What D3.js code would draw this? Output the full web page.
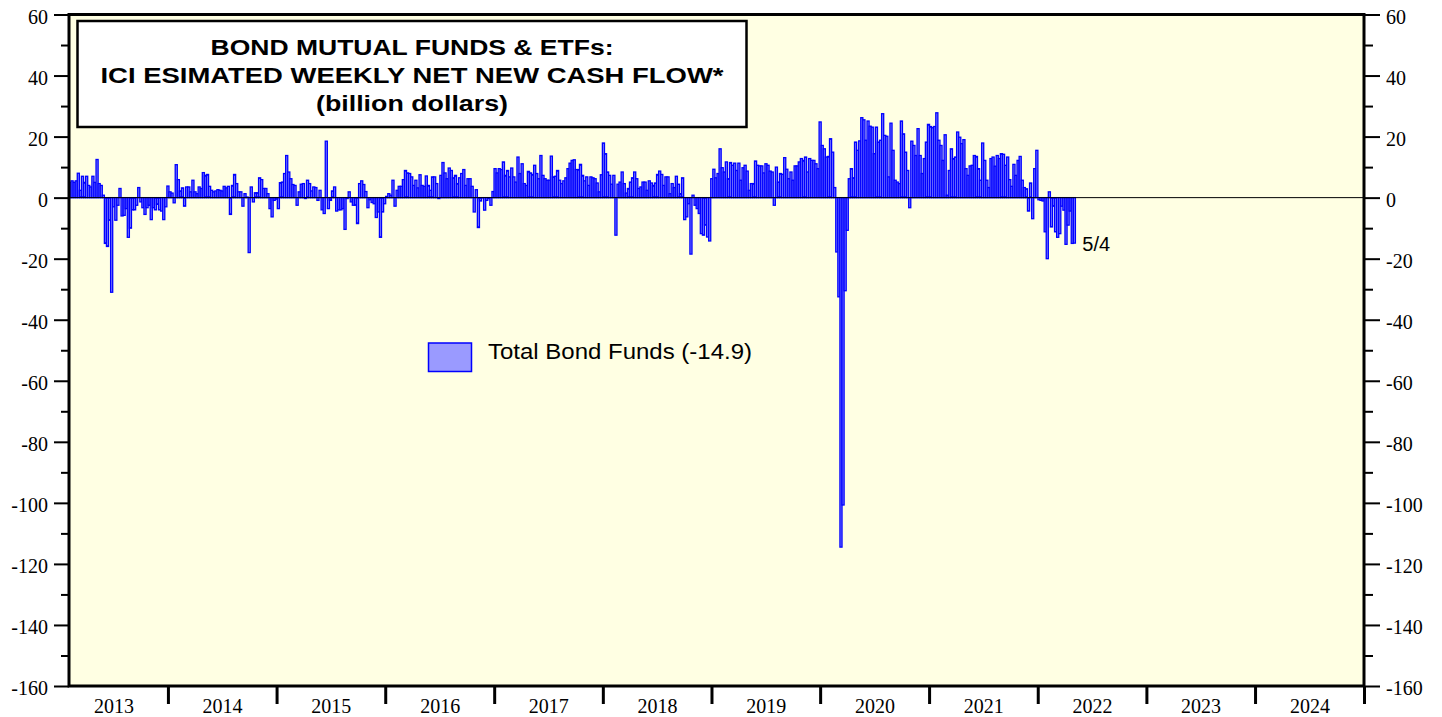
<!DOCTYPE html>
<html><head><meta charset="utf-8">
<script src="https://cdn.jsdelivr.net/npm/d3@7"></script>
<style>body{margin:0;background:#fff}svg{display:block}</style>
</head><body>
<svg id="c" width="1442" height="717"></svg>
<script>
// ---- data (billion dollars, weekly, first week 2013-02-06, last 2022-05-04) ----
const years = [2013,2014,2015,2016,2017,2018,2019,2020,2021,2022,2023,2024];
const yMajor = [-160,-140,-120,-100,-80,-60,-40,-20,0,20,40,60];
const yMinor = [-150,-130,-110,-90,-70,-50,-30,-10,10,30,50];
const firstWeek = "2013-02-06";
const lastLabel = "5/4";
const legendLabel = "Total Bond Funds (-14.9)";
const titleLines = ["BOND MUTUAL FUNDS & ETFs:", "ICI ESIMATED WEEKLY NET NEW CASH FLOW*", "(billion dollars)"];

const flows2013 = [5,5.5,5,5.5,8,2.4,7,5,7,4,3.5,7,5,12.5,4.6,4,0.8,-15,-16,-7.4,-31,-3,-7.4,-2.5,3,-6,-5.8,-3.6,-13,-10,-4,-4,-2.5,3.3,-1.4,-3.3,-5.5,-3.3,-2.5,-7.2,-3.3,-4,-2.2,-4,-4.4,-7.2,-3];
const flows2014 = [3.8,1.9,1.5,-1.7,10.8,5.9,2.2,3.2,-2.8,3.5,3.5,1.9,5.7,1.9,1.3,3.5,3,8.2,7.3,7.6,3.7,2.4,1.9,2.2,2.6,2.4,2.2,3.7,3.2,3.7,-5.5,4,7.6,4.6,1.9,1.9,-2.8,1.3,0.2,-18,3.5,-1.4,1.6,1.6,6.5,5.9,3,3,1.3,-3.6,-6.3,-0.9,-0.5];
const flows2015 = [-3.6,4.9,5.1,7.9,13.8,8.4,6.2,4.3,4,-2.5,1.9,4.4,4.6,-0.3,5.7,4.6,2.2,3.5,3.3,-0.9,2.4,-4,-5.2,18.5,-3.6,-0.9,2.2,3.5,-4.4,-4,-4,-3.6,-10.4,-0.3,1.9,-1.4,-2.5,-2.5,-8.5,4.6,5.5,4.3,2,-3.3,-0.7,-1.6,-2,-6.5,-4.7,-13,-4.7,-2];
const flows2016 = [0.4,1.3,0.8,5.7,-2.8,2.4,3.7,3.7,5.9,8.9,8.1,7.9,6.8,4,5.7,3.2,7.5,4,3.7,7.1,4,2.4,6.8,6.8,4.6,-0.3,7.3,11.5,8.1,6.2,9.7,8.9,6.5,7.3,4.6,6.5,7.9,9.2,4,6.2,6.2,3.7,-4.7,2.6,-9.8,-1.1,-0.1,-4.1,-0.9,-0.3,-2.5,2];
const flows2017 = [9.5,8.1,9.5,9.2,11.7,7.3,8.9,6.8,9.7,6.8,5.1,13.3,7.9,11.1,4.6,4,8.6,8.1,7.6,10.6,7.9,6.2,13.8,7.3,6.2,5.7,5.7,13.6,6.8,7,8.9,5.7,4.6,5.5,6.5,9.5,11.3,12.2,12.4,9.2,9.2,10.9,7.3,5.5,6.8,4,6.8,6.5,6.2,4.8,1.9,7.5];
const flows2018 = [17.9,14.4,8.4,7.3,4.4,7.3,-12.3,4.4,5.1,8.4,4.6,1.5,3,5.1,6.5,8.4,6.2,3,3.5,5.1,5.1,2.4,5.5,4.8,4,4.8,7.6,8.7,7.6,4,6.8,6.8,1.3,4.6,3.3,7,4.4,1.3,6.5,-7.2,-6.3,-2,-18.5,0.8,-2.5,-3.6,-5.2,-11.8,-12.3,-9,-12.9,-14.2];
const flows2019 = [6.2,9.3,6.5,7.9,16,9.8,8.4,11.7,6.2,11.5,10.6,11.3,8.9,11.3,5.7,9.8,10.6,8.7,2.4,4.6,4.6,12,10.6,10.4,10.4,8.1,11.1,10.6,8.7,8.4,-2.5,10,5.1,7.9,7.6,13.1,9.3,6.2,8.4,5.7,10.4,10.4,11.7,12.8,12.2,13.3,8.4,12.8,12.2,12.2,11.1,9.5];
const flows2020 = [24.8,17.1,16,13.3,13.5,19.3,14.9,3.3,-17.8,-32.5,-114.5,-100.7,-30.5,-10.7,6.2,9.5,6.5,18.2,15.5,18.6,26.2,25.5,18.8,25.1,23.4,23.1,14.4,23.1,18.2,18.8,27.5,20.4,20.1,6.8,24.4,15.5,5.7,5.1,4.6,25.1,20.9,14.9,8.9,-3.3,18.5,17.1,13.8,22.6,13.8,7.9,12.8,18.2,24];
const flows2021 = [23.3,22.9,23.3,27.8,18.8,17.1,12.2,20.6,0.8,8.9,16,12.8,13.3,21.5,19.8,17.7,19,9.5,7.3,10.4,10.6,13.8,13.5,9.5,5.7,17.9,12.2,5.7,3.3,12.8,13.3,10.3,13.8,12.8,14.4,14.2,10.6,13.3,5.9,3.7,10.9,7.3,12.2,13.5,5.7,3.3,2.9,-4.4,4.8,-6.9,9.5,15.5];
const flows2022 = [-0.7,-0.9,-1.1,-11.2,-20,1.9,-9.6,-2.8,-11.2,-13,-11.8,-2.8,-4.1,-15.3,-9,-4.4,-15,-14.9];

const allFlows = [].concat(flows2013,flows2014,flows2015,flows2016,flows2017,flows2018,flows2019,flows2020,flows2021,flows2022);
const start = new Date(firstWeek + "T00:00:00");
const data = allFlows.map((v,i) => ({date: d3.timeDay.offset(start, 7*i), value: v}));

// ---- layout ----
const svg = d3.select("#c");
const L = 69, R = 1364, T = 14.5, B = 686;
const x = d3.scaleTime()
  .domain([new Date(2013,0,1), new Date(2025,0,1)])
  .range([59.27, 1364]);
const y = d3.scaleLinear().domain([-160, 60]).range([B, T]);

svg.append("rect").attr("width",1442).attr("height",717).attr("fill","#fff");
svg.append("rect").attr("x",L).attr("y",T).attr("width",R-L).attr("height",B-T).attr("fill","#ffffe3");

svg.append("defs").append("clipPath").attr("id","plotclip")
  .append("rect").attr("x",L).attr("y",T).attr("width",R-L).attr("height",B-T);

// bars
const bw = x(d3.timeDay.offset(start,7)) - x(start);
svg.append("g").attr("clip-path","url(#plotclip)")
  .selectAll("rect").data(data).join("rect")
  .attr("x", d => x(d.date) - bw/2)
  .attr("width", bw)
  .attr("y", d => y(Math.max(0, d.value)))
  .attr("height", d => Math.abs(y(d.value) - y(0)))
  .attr("fill", "#8484ff")
  .attr("stroke", "#0000ff")
  .attr("stroke-width", 1.3);

// zero line
svg.append("line").attr("x1",L).attr("x2",R).attr("y1",y(0)).attr("y2",y(0))
  .attr("stroke","#000").attr("stroke-width",1);

// frame
svg.append("rect").attr("x",L).attr("y",T).attr("width",R-L).attr("height",B-T)
  .attr("fill","none").attr("stroke","#000").attr("stroke-width",3);

const serif = "'Liberation Serif','Times New Roman',serif";
const sans = "'Liberation Sans',Arial,Helvetica,sans-serif";

function styleAxis(g, sw){
  g.attr("font-family", serif).attr("font-size", 20);
  g.select(".domain").remove();
  g.selectAll(".tick line").attr("stroke","#000").attr("stroke-width",sw);
  g.selectAll(".tick text").attr("fill","#000").style("font-family",serif).style("font-size","20px");
}
const fmtY = d => String(d);
// left axis
const gl = svg.append("g").attr("transform",`translate(${L},0)`)
  .call(d3.axisLeft(y).tickValues(yMajor).tickSize(15).tickPadding(6).tickFormat(fmtY));
styleAxis(gl,2); gl.selectAll(".tick text").attr("dy","0.43em");
const glm = svg.append("g").attr("transform",`translate(${L},0)`)
  .call(d3.axisLeft(y).tickValues(yMinor).tickSize(8).tickFormat(""));
styleAxis(glm,2);
// right axis
const gr = svg.append("g").attr("transform",`translate(${R},0)`)
  .call(d3.axisRight(y).tickValues(yMajor).tickSize(16).tickPadding(6).tickFormat(fmtY));
styleAxis(gr,2); gr.selectAll(".tick text").attr("dy","0.43em");
const grm = svg.append("g").attr("transform",`translate(${R},0)`)
  .call(d3.axisRight(y).tickValues(yMinor).tickSize(9).tickFormat(""));
styleAxis(grm,2);

// x axis: year boundary ticks and centred labels
const bounds = years.slice(1).map(yr => new Date(yr,0,1)).concat([new Date(2025,0,1)]);
const gxt = svg.append("g").attr("transform",`translate(0,${B})`)
  .call(d3.axisBottom(x).tickValues(bounds).tickSize(18).tickFormat(""));
styleAxis(gxt,3);
const mids = years.map(yr => new Date(yr,6,2));
const gxl = svg.append("g").attr("transform",`translate(0,${B})`)
  .call(d3.axisBottom(x).tickValues(mids).tickSize(0).tickFormat(d => String(d.getFullYear())));
styleAxis(gxl,0);
gxl.selectAll(".tick text").attr("y",27).attr("dy",0);

// title box
svg.append("rect").attr("x",77.5).attr("y",21).attr("width",669).attr("height",106)
  .attr("fill","#fff").attr("stroke","#000").attr("stroke-width",2.5);
const tLens = [403, 623, 192];
const tBase = [55, 82.7, 110.5];
svg.append("g").selectAll("text").data(titleLines).join("text")
  .attr("x", 412).attr("y", (d,i) => tBase[i])
  .attr("text-anchor","middle")
  .attr("textLength",(d,i) => tLens[i]).attr("lengthAdjust","spacingAndGlyphs")
  .style("font-family",sans).style("font-weight","bold").style("font-size","22.5px")
  .text(d => d);

// legend
svg.append("rect").attr("x",428.5).attr("y",343).attr("width",43).attr("height",28.5)
  .attr("fill","#9a9aff").attr("stroke","#0000ff").attr("stroke-width",1.5);
svg.append("text").attr("x",488).attr("y",358.5)
  .attr("textLength",264).attr("lengthAdjust","spacingAndGlyphs")
  .style("font-family",sans).style("font-size","22px").attr("fill","#000")
  .text(legendLabel);

// last-date label
const last = data[data.length-1];
svg.append("text").attr("x", x(last.date) + 8).attr("y", 250.7)
  .style("font-family",sans).style("font-size","20px").attr("fill","#000")
  .text(lastLabel);
</script>
</body></html>
